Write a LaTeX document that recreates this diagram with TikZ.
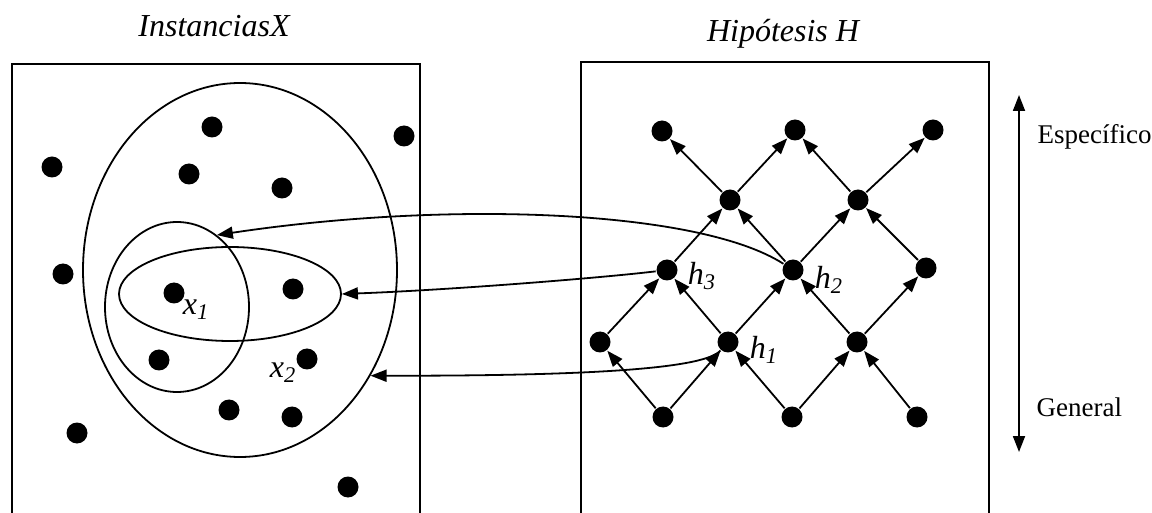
\documentclass[tikz,border=0pt]{standalone}
\usepackage{fontspec}
\setmainfont{Liberation Serif}
\usetikzlibrary{arrows.meta,shapes.geometric}

\begin{document}
\begin{tikzpicture}[x=0.5pt, y=-0.5pt, line width=0.9pt,
    >={Triangle[length=8pt,width=6pt]},
    dot/.style={circle, fill, inner sep=0pt, minimum size=10.5pt},
    conj/.style={draw, ellipse, inner sep=0pt},
    titulo/.style={font=\fontsize{16}{19}\selectfont\itshape, anchor=base},
    etiq/.style={font=\fontsize{16}{19}\selectfont\itshape, inner sep=0pt},
    eje/.style={font=\fontsize{13.5}{16}\selectfont, anchor=west}]
    \useasboundingbox (0,0) rectangle (1152,513);

    % Titles
    \node[titulo] (tX) at (214,37) {InstanciasX};
    \node[titulo] (tH) at (783,42) {Hipótesis H};

    % Boxes
    \draw (12,513) |- (420,64) -- (420,513);
    \draw (581,513) |- (989,62) -- (989,513);

    % Instance sets
    \node[conj, minimum width=157pt, minimum height=187pt] (todas) at (240,270) {};
    \node[conj, minimum width=72pt, minimum height=85pt] (medio) at (177,307) {};
    \node[conj, minimum width=111pt, minimum height=47pt] (horiz) at (230,294) {};

    % Instances
    \node[dot] (p1) at (212,127) {};
    \node[dot] (p2) at (404,136) {};
    \node[dot] (p3) at (52,167) {};
    \node[dot] (p4) at (189,174) {};
    \node[dot] (p5) at (282,188) {};
    \node[dot] (p6) at (63,274) {};
    \node[dot] (p7) at (174,293) {};
    \node[dot] (p8) at (293,289) {};
    \node[dot] (p9) at (159,360) {};
    \node[dot] (p10) at (307,359) {};
    \node[dot] (p11) at (229,410) {};
    \node[dot] (p12) at (292,417) {};
    \node[dot] (p13) at (77,433) {};
    \node[dot] (p14) at (348,487) {};
    \node[etiq] (x1) at (196,310) {x\textsubscript{1}};
    \node[etiq] (x2) at (283,373) {x\textsubscript{2}};

    % Hypotheses, from general (bottom) to specific (top)
    \node[dot] (g1) at (663,417) {};
    \node[dot] (g2) at (792,417) {};
    \node[dot] (g3) at (917,417) {};
    \node[dot] (c1) at (600,342) {};
    \node[dot] (h1) at (728,342) {};
    \node[dot] (c3) at (857,342) {};
    \node[dot] (h3) at (667,270) {};
    \node[dot] (h2) at (793,270) {};
    \node[dot] (d3) at (926,268) {};
    \node[dot] (e1) at (730,200) {};
    \node[dot] (e2) at (858,200) {};
    \node[dot] (s1) at (662,131) {};
    \node[dot] (s2) at (795,130) {};
    \node[dot] (s3) at (933,130) {};
    \node[etiq] (lh1) at (764,350) {h\textsubscript{1}};
    \node[etiq] (lh2) at (829,280) {h\textsubscript{2}};
    \node[etiq] (lh3) at (702,276) {h\textsubscript{3}};

    % Lattice edges
    \draw[->] (g1) -- (c1);
    \draw[->] (g1) -- (h1);
    \draw[->] (g2) -- (h1);
    \draw[->] (g2) -- (c3);
    \draw[->] (g3) -- (c3);
    \draw[->] (c1) -- (h3);
    \draw[->] (h1) -- (h3);
    \draw[->] (h1) -- (h2);
    \draw[->] (c3) -- (h2);
    \draw[->] (c3) -- (d3);
    \draw[->] (h3) -- (e1);
    \draw[->] (h2) -- (e1);
    \draw[->] (h2) -- (e2);
    \draw[->] (d3) -- (e2);
    \draw[->] (e1) -- (s1);
    \draw[->] (e1) -- (s2);
    \draw[->] (e2) -- (s2);
    \draw[->] (e2) -- (s3);

    % Hypotheses to instance sets
    \draw[->] (h2) .. controls (700,210) and (450,200) .. (medio.61);
    \draw[->] (h3) .. controls (600,278) and (450,290) .. (horiz.east);
    \draw[->] (h1) .. controls (705,368) and (600,376) .. (todas.-39);

    % Specific / general axis
    \coordinate (esp) at (1019,95);
    \coordinate (gen) at (1019,452);
    \draw[<->] (esp) -- (gen);
    \node[eje] (lesp) at (1030,137) {Específico};
    \node[eje] (lgen) at (1029,407) {General};
\end{tikzpicture}
\end{document}
